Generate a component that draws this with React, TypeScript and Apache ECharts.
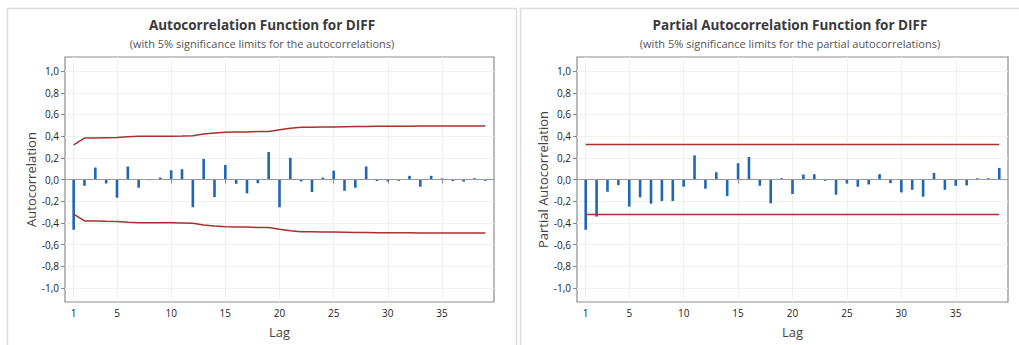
import React, { useEffect, useRef } from "react";
import * as echarts from "echarts";

const lags = [1,2,3,4,5,6,7,8,9,10,11,12,13,14,15,16,17,18,19,20,21,22,23,24,25,26,27,28,29,30,31,32,33,34,35,36,37,38,39];

const acfValues = [-0.464,-0.058,0.11,-0.037,-0.168,0.12,-0.076,-0.006,0.018,0.085,0.095,-0.256,0.19,-0.162,0.134,-0.04,-0.128,-0.034,0.253,-0.256,0.2,-0.018,-0.116,0.018,0.082,-0.104,-0.076,0.12,-0.015,-0.018,-0.012,0.034,-0.067,0.034,0.01,-0.015,-0.02,0.012,-0.012];

const acfLimits = [0.32,0.382,0.383,0.386,0.387,0.394,0.398,0.399,0.399,0.399,0.401,0.404,0.42,0.429,0.435,0.439,0.439,0.443,0.443,0.458,0.472,0.481,0.481,0.484,0.484,0.486,0.488,0.489,0.492,0.492,0.492,0.492,0.493,0.493,0.493,0.493,0.493,0.493,0.493];

const pacfValues = [-0.464,-0.342,-0.113,-0.052,-0.25,-0.165,-0.223,-0.198,-0.198,-0.067,0.223,-0.085,0.067,-0.153,0.15,0.208,-0.058,-0.22,0.012,-0.134,0.046,0.049,-0.012,-0.14,-0.037,-0.067,-0.046,0.049,-0.034,-0.119,-0.095,-0.159,0.061,-0.095,-0.058,-0.055,0.012,0.012,0.107];

const pacfLimit = 0.322;

const yTicks = [-1,-0.8,-0.6,-0.4,-0.2,0,0.2,0.4,0.6,0.8,1];
const xTicks = [1,5,10,15,20,25,30,35];

const FONT = "'Open Sans', 'Noto Sans', sans-serif";
const BAR = "#1f66b5";
const RED = "#a8302f";

const fmtY = (v: number) => v.toFixed(1).replace(".", ",");

function xAxisFor(gridIndex: number) {
  return {
    type: "value",
    gridIndex,
    min: 0.2,
    max: 39.8,
    name: "Lag",
    nameLocation: "middle",
    nameGap: 23,
    nameTextStyle: { fontFamily: FONT, fontSize: 13, color: "#444" },
    axisLine: { show: false },
    axisTick: { show: true, length: 4, lineStyle: { color: "#888" }, customValues: xTicks },
    axisLabel: { fontFamily: FONT, fontSize: 10, color: "#222", margin: 6, customValues: xTicks },
    splitLine: { show: true, lineStyle: { color: "#f0f0f0", width: 1 } },
  };
}

function yAxisFor(gridIndex: number, name: string) {
  return {
    type: "value",
    gridIndex,
    min: -1.13,
    max: 1.13,
    name,
    nameLocation: "middle",
    nameGap: 26,
    nameTextStyle: { fontFamily: FONT, fontSize: 13, color: "#444" },
    axisLine: { show: false },
    axisTick: { show: true, length: 4, lineStyle: { color: "#888" }, customValues: yTicks },
    axisLabel: { fontFamily: FONT, fontSize: 10, color: "#222", margin: 6, customValues: yTicks, formatter: fmtY },
    splitLine: { show: true, lineStyle: { color: "#f0f0f0", width: 1 } },
  };
}

export default function App() {
  const ref = useRef<HTMLDivElement>(null);
  useEffect(() => {
    if (!ref.current) return;
    const chart = echarts.init(ref.current, undefined, { renderer: "svg" });
    const zeroLine = {
      silent: true,
      symbol: "none",
      label: { show: false },
      lineStyle: { color: "#9a9a9a", width: 1.2, type: "solid" },
      data: [{ yAxis: 0 }],
    };
    chart.setOption({
      animation: false,
      backgroundColor: "#ffffff",
      graphic: [
        { type: "rect", shape: { x: 7.5, y: 8.5, width: 509, height: 345 }, style: { fill: "none", stroke: "#dcdcdc", lineWidth: 1.5 }, silent: true },
        { type: "rect", shape: { x: 520.5, y: 8.5, width: 505, height: 345 }, style: { fill: "none", stroke: "#dcdcdc", lineWidth: 1.5 }, silent: true },
        { type: "text", x: 262, y: 25, style: { text: "Autocorrelation Function for DIFF", font: `bold 13.5px ${FONT}`, fill: "#3a3a3a", align: "center", verticalAlign: "middle" } },
        { type: "text", x: 262, y: 43, style: { text: "(with 5% significance limits for the autocorrelations)", font: `11px ${FONT}`, fill: "#555", align: "center", verticalAlign: "middle" } },
        { type: "text", x: 790, y: 25, style: { text: "Partial Autocorrelation Function for DIFF", font: `bold 13.5px ${FONT}`, fill: "#3a3a3a", align: "center", verticalAlign: "middle" } },
        { type: "text", x: 790, y: 43, style: { text: "(with 5% significance limits for the partial autocorrelations)", font: `11px ${FONT}`, fill: "#555", align: "center", verticalAlign: "middle" } },
      ],
      grid: [
        { left: 65, top: 57, width: 429, height: 245, show: true, borderColor: "#8c8c8c", borderWidth: 1.2, backgroundColor: "transparent" },
        { left: 577, top: 57, width: 431, height: 245, show: true, borderColor: "#8c8c8c", borderWidth: 1.2, backgroundColor: "transparent" },
      ],
      xAxis: [xAxisFor(0), xAxisFor(1)],
      yAxis: [yAxisFor(0, "Autocorrelation"), yAxisFor(1, "Partial Autocorrelation")],
      series: [
        {
          type: "bar",
          xAxisIndex: 0,
          yAxisIndex: 0,
          barWidth: 2.6,
          itemStyle: { color: BAR },
          data: lags.map((l, i) => [l, acfValues[i]]),
          markLine: zeroLine,
          z: 3,
        },
        {
          type: "line",
          xAxisIndex: 0,
          yAxisIndex: 0,
          symbol: "none",
          lineStyle: { color: RED, width: 1.5 },
          data: lags.map((l, i) => [l, acfLimits[i]]),
          z: 4,
        },
        {
          type: "line",
          xAxisIndex: 0,
          yAxisIndex: 0,
          symbol: "none",
          lineStyle: { color: RED, width: 1.5 },
          data: lags.map((l, i) => [l, -acfLimits[i]]),
          z: 4,
        },
        {
          type: "bar",
          xAxisIndex: 1,
          yAxisIndex: 1,
          barWidth: 2.6,
          itemStyle: { color: BAR },
          data: lags.map((l, i) => [l, pacfValues[i]]),
          markLine: zeroLine,
          z: 3,
        },
        {
          type: "line",
          xAxisIndex: 1,
          yAxisIndex: 1,
          symbol: "none",
          lineStyle: { color: RED, width: 1.5 },
          data: [[lags[0], pacfLimit], [lags[lags.length - 1], pacfLimit]],
          z: 4,
        },
        {
          type: "line",
          xAxisIndex: 1,
          yAxisIndex: 1,
          symbol: "none",
          lineStyle: { color: RED, width: 1.5 },
          data: [[lags[0], -pacfLimit], [lags[lags.length - 1], -pacfLimit]],
          z: 4,
        },
      ],
    });
    return () => chart.dispose();
  }, []);
  return (
    <div
      ref={ref}
      style={{ position: "fixed", left: 0, top: 0, width: 1019, height: 345 }}
    />
  );
}
